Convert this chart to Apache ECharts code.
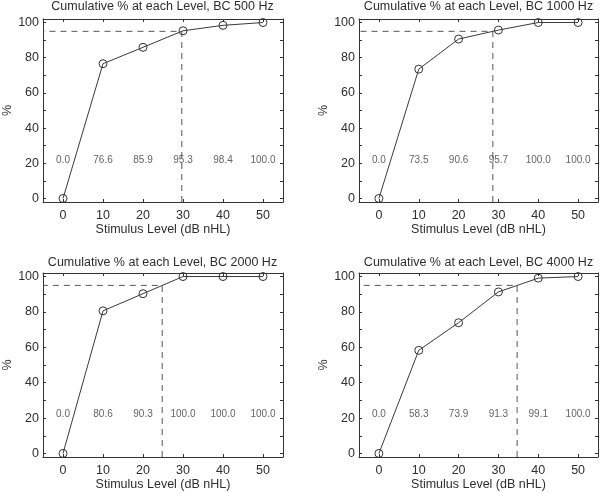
<!DOCTYPE html>
<html>
<head>
<meta charset="utf-8">
<script src="https://cdn.jsdelivr.net/npm/echarts@6/dist/echarts.min.js"></script>
<style>
html,body{margin:0;padding:0;background:#fff;}
#chart{width:601px;height:493px;}
</style>
</head>
<body>
<div id="chart"></div>
<script>
// ---- data ----
const levels = [0, 10, 20, 30, 40, 50];
const pct500 = [0.0, 76.6, 85.9, 95.3, 98.4, 100.0];
const pct1000 = [0.0, 73.5, 90.6, 95.7, 100.0, 100.0];
const pct2000 = [0.0, 80.6, 90.3, 100.0, 100.0, 100.0];
const pct4000 = [0.0, 58.3, 73.9, 91.3, 99.1, 100.0];
const thresholds = [29.7, 28.6, 24.8, 34.7];
const criterion = 95;
const titles = [
  'Cumulative % at each Level, BC 500 Hz',
  'Cumulative % at each Level, BC 1000 Hz',
  'Cumulative % at each Level, BC 2000 Hz',
  'Cumulative % at each Level, BC 4000 Hz'
];
const xTicks = [0, 10, 20, 30, 40, 50];
const yTickLabels = [0, 20, 40, 60, 80, 100];
const yTicks = [0, 10, 20, 30, 40, 50, 60, 70, 80, 90, 100];
const xName = 'Stimulus Level (dB nHL)';
const yName = '%';

// ---- layout ----
const allValues = [pct500, pct1000, pct2000, pct4000];
const grids = [
  {left: 42, top: 19, width: 241, height: 183},
  {left: 359, top: 19, width: 239, height: 183},
  {left: 42, top: 273, width: 241, height: 184},
  {left: 359, top: 273, width: 239, height: 184}
];
const titleTops = [0, 0, 256, 256];
const XMIN = -5, XMAX = 55, YMIN = -2, YMAX = 102;
const LABEL_Y = 22;
const FONT = "'Liberation Sans', Arial, Helvetica, sans-serif";
const TXT = '#2e2e2e';
const FS = 12.5;

const option = {
  backgroundColor: '#fff',
  animation: false,
  textStyle: {fontFamily: FONT},
  title: [], grid: [], xAxis: [], yAxis: [], series: []
};

grids.forEach((g, i) => {
  option.grid.push({left: g.left, top: g.top, width: g.width, height: g.height, show: false, containLabel: false});
  option.title.push({
    text: titles[i], left: g.left + g.width / 2, top: titleTops[i], textAlign: 'center', padding: 0,
    textStyle: {fontSize: FS, fontWeight: 'normal', color: TXT, fontFamily: FONT}
  });
  const axLine = {show: true, onZero: false, lineStyle: {color: '#333', width: 1}};
  // bottom x
  option.xAxis.push({
    type: 'value', gridIndex: i, position: 'bottom', min: XMIN, max: XMAX,
    axisLine: axLine,
    axisTick: {show: true, inside: true, length: 3, customValues: xTicks, lineStyle: {color: '#333'}},
    axisLabel: {show: true, customValues: xTicks, color: TXT, fontSize: FS, margin: 7, fontFamily: FONT},
    splitLine: {show: false},
    name: xName, nameLocation: 'middle', nameGap: 21,
    nameTextStyle: {fontSize: FS, color: TXT, fontFamily: FONT}
  });
  // top x
  option.xAxis.push({
    type: 'value', gridIndex: i, position: 'top', min: XMIN, max: XMAX,
    axisLine: axLine,
    axisTick: {show: true, inside: true, length: 3, customValues: xTicks, lineStyle: {color: '#333'}},
    axisLabel: {show: false}, splitLine: {show: false}
  });
  // left y
  option.yAxis.push({
    type: 'value', gridIndex: i, position: 'left', min: YMIN, max: YMAX,
    axisLine: axLine,
    axisTick: {show: true, inside: true, length: 3, customValues: yTicks, lineStyle: {color: '#333'}},
    axisLabel: {show: true, customValues: yTickLabels, color: TXT, fontSize: FS, margin: 4, fontFamily: FONT},
    splitLine: {show: false},
    name: yName, nameLocation: 'middle', nameGap: 29, nameRotate: 90,
    nameTextStyle: {fontSize: FS, color: TXT, fontFamily: FONT}
  });
  // right y
  option.yAxis.push({
    type: 'value', gridIndex: i, position: 'right', min: YMIN, max: YMAX,
    axisLine: axLine,
    axisTick: {show: true, inside: true, length: 3, customValues: yTicks, lineStyle: {color: '#333'}},
    axisLabel: {show: false}, splitLine: {show: false}
  });

  const vals = allValues[i];
  const thr = thresholds[i];
  // dashed criterion lines
  option.series.push({
    type: 'line', xAxisIndex: 2 * i, yAxisIndex: 2 * i, silent: true, symbol: 'none', z: 1,
    data: [[thr, YMIN], [thr, criterion], [XMIN, criterion]],
    lineStyle: {color: '#555', width: 1, type: [6, 5]}
  });
  // main curve
  option.series.push({
    type: 'line', xAxisIndex: 2 * i, yAxisIndex: 2 * i, z: 3,
    data: levels.map((x, k) => [x, vals[k]]),
    symbol: 'circle', symbolSize: 8, showSymbol: true,
    lineStyle: {color: '#3a3a3a', width: 1},
    itemStyle: {color: 'rgba(255,255,255,0)', borderColor: '#333', borderWidth: 1}
  });
  // value annotations
  option.series.push({
    type: 'scatter', xAxisIndex: 2 * i, yAxisIndex: 2 * i, z: 4, silent: true,
    symbolSize: 1, itemStyle: {color: 'rgba(0,0,0,0)'},
    data: levels.map((x, k) => [x, LABEL_Y, vals[k]]),
    label: {
      show: true, position: 'inside', color: '#3a3a3a', fontSize: 10, fontFamily: FONT,
      formatter: p => p.value[2].toFixed(1)
    }
  });
});

const chart = echarts.init(document.getElementById('chart'), null, {renderer: 'canvas'});
chart.setOption(option);
</script>
</body>
</html>
